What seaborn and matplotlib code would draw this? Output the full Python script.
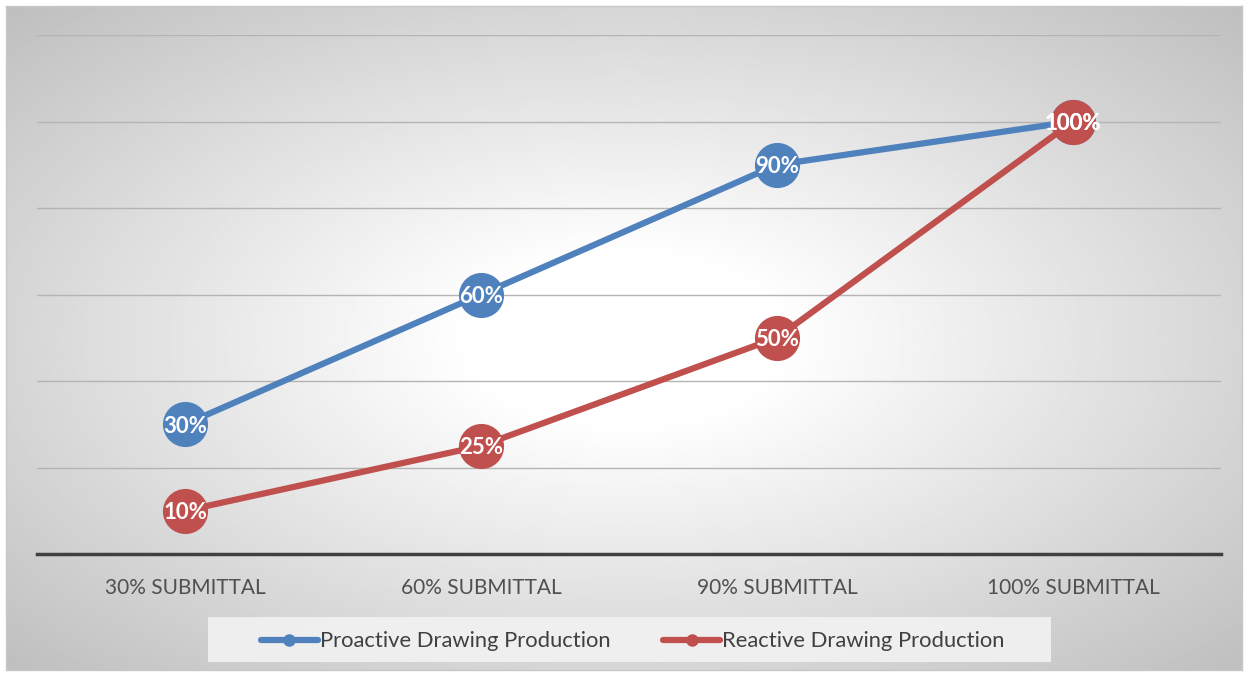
import numpy as np
import pandas as pd
import seaborn as sns
import matplotlib.pyplot as plt
from matplotlib.lines import Line2D
from matplotlib.patches import Rectangle

stages = ["30% SUBMITTAL", "60% SUBMITTAL", "90% SUBMITTAL", "100% SUBMITTAL"]
proactive = [30, 60, 90, 100]
reactive = [10, 25, 50, 100]
series_names = ["Proactive Drawing Production", "Reactive Drawing Production"]
colors = ["#4f81bd", "#c0504d"]

df = pd.DataFrame({
    "stage": stages * 2,
    "value": proactive + reactive,
    "series": [series_names[0]] * 4 + [series_names[1]] * 4,
})

sns.set_theme(style="white")
plt.rcParams["font.family"] = ["Lato", "DejaVu Sans"]

fig = plt.figure(figsize=(12.48, 6.75), dpi=100)
fig.patch.set_facecolor("white")

# radial gradient background
bg = fig.add_axes([6 / 1248, 5 / 675, 1236 / 1248, 664 / 675], zorder=-5)
H, W = 300, 560
yy, xx = np.mgrid[0:H, 0:W]
r = np.sqrt(((xx - W * 0.5) / (W / 2)) ** 2 + ((yy - H * 0.5) / (H / 2)) ** 2)
shade = 1 - 0.25 * np.clip((r - 0.25) / 1.15, 0, 1)
bg.imshow(shade, cmap="gray", vmin=0, vmax=1, aspect="auto", interpolation="bilinear")
bg.set_xticks([])
bg.set_yticks([])
for s in bg.spines.values():
    s.set_color("#c8c8c8")
    s.set_linewidth(1)

# legend box
fig.patches.append(Rectangle((208 / 1248, 1 - 662 / 675), (1051 - 208) / 1248, 45 / 675,
                             transform=fig.transFigure, facecolor="#f2f2f2",
                             edgecolor="none", alpha=0.9, zorder=-1))

ax = fig.add_axes([37 / 1248, 1 - 554 / 675, (1221 - 37) / 1248, (554 - 35) / 675])
ax.patch.set_alpha(0)

sns.lineplot(data=df, x="stage", y="value", hue="series", palette=colors,
             marker="o", markersize=32.5, linewidth=4.5, markeredgewidth=0,
             legend=False, ax=ax, sort=False)

for vals in [proactive, reactive]:
    for i, v in enumerate(vals):
        ax.text(i, v, f"{v}%", ha="center", va="center_baseline", color="white",
                fontsize=16, fontweight="bold", zorder=10)

ax.set_xlim(-0.5, 3.5)
ax.set_ylim(0, 120)
ax.set_yticks([20, 40, 60, 80, 100, 120])
ax.yaxis.grid(True, color="#b4b4b4", linewidth=1)
ax.set_yticklabels([])
ax.tick_params(axis="y", length=0)
ax.tick_params(axis="x", length=0, pad=17, labelsize=15, labelcolor="#505050")
ax.set_xlabel("")
ax.set_ylabel("")
for side in ["top", "left", "right"]:
    ax.spines[side].set_visible(False)
ax.spines["bottom"].set_color("#404040")
ax.spines["bottom"].set_linewidth(2.5)

handles = [Line2D([0], [0], color=c, linewidth=4.5, marker="o", markersize=8) for c in colors]
leg = fig.legend(handles, series_names, loc="center", bbox_to_anchor=(0.507, 0.05),
                 ncol=2, frameon=False, fontsize=15.8, handlelength=2.6,
                 handletextpad=0.1, columnspacing=2.4)
for t in leg.get_texts():
    t.set_color("#404040")

fig.savefig("out.png", dpi=100)
